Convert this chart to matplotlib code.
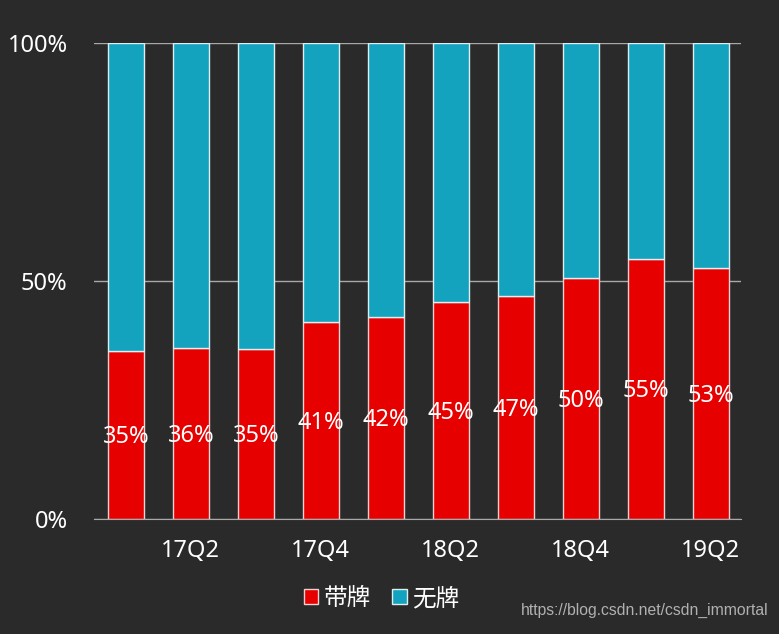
import numpy as np
import matplotlib.pyplot as plt
from matplotlib.ticker import FuncFormatter

plt.rcParams['font.family'] = ['Noto Sans', 'Noto Sans CJK SC', 'DejaVu Sans']

# Data
quarters = ['17Q1', '17Q2', '17Q3', '17Q4', '18Q1', '18Q2', '18Q3', '18Q4', '19Q1', '19Q2']
branded = np.array([35.3, 35.9, 35.7, 41.4, 42.4, 45.6, 46.8, 50.6, 54.6, 52.7])
unbranded = 100 - branded
labels = ['35%', '36%', '35%', '41%', '42%', '45%', '47%', '50%', '55%', '53%']

bg = '#2a2a2a'
red = '#e60000'
teal = '#13a3bf'

fig = plt.figure(figsize=(7.79, 6.34), dpi=100, facecolor=bg)
ax = fig.add_axes([0.1207, 0.181, 0.8303, 0.751], facecolor=bg)

x = np.arange(len(quarters))
ax.bar(x, branded, width=0.55, color=red, edgecolor='#f0d0d0', linewidth=1, label='带牌', zorder=3)
ax.bar(x, unbranded, width=0.55, bottom=branded, color=teal, edgecolor='#e0eef0', linewidth=1,
       label='无牌', zorder=3)

for xi, b, lab in zip(x, branded, labels):
    ax.text(xi, b / 2 - 0.4, lab, ha='center', va='center', color='white', fontsize=17, zorder=4)

ax.set_xlim(-0.49, 9.46)
ax.set_ylim(0, 100)
ax.set_yticks([0, 50, 100])
ax.yaxis.set_major_formatter(FuncFormatter(lambda v, p: f'{v:.0f}%'))
ax.set_xticks(x[1::2])
ax.set_xticklabels(quarters[1::2])
ax.tick_params(axis='both', length=0, colors='white', labelsize=17)
ax.tick_params(axis='x', pad=14)
ax.tick_params(axis='y', pad=19)
ax.grid(axis='y', color='#a8a8a8', linewidth=1, zorder=0)
for s in ['top', 'right', 'left']:
    ax.spines[s].set_visible(False)
ax.spines['bottom'].set_color('#a8a8a8')
ax.spines['bottom'].set_zorder(5)

leg = fig.legend(loc='center', bbox_to_anchor=(0.49, 0.055), ncol=2, frameon=False,
                 fontsize=17, handlelength=0.6, handleheight=0.6, handletextpad=0.25,
                 columnspacing=0.9, labelcolor='white')

fig.text(0.987, 0.025, 'https://blog.csdn.net/csdn_immortal', ha='right', va='bottom',
         color='#b0b0b0', fontsize=11.3, family='Liberation Sans')

fig.savefig('out.png', dpi=100, facecolor=bg)
